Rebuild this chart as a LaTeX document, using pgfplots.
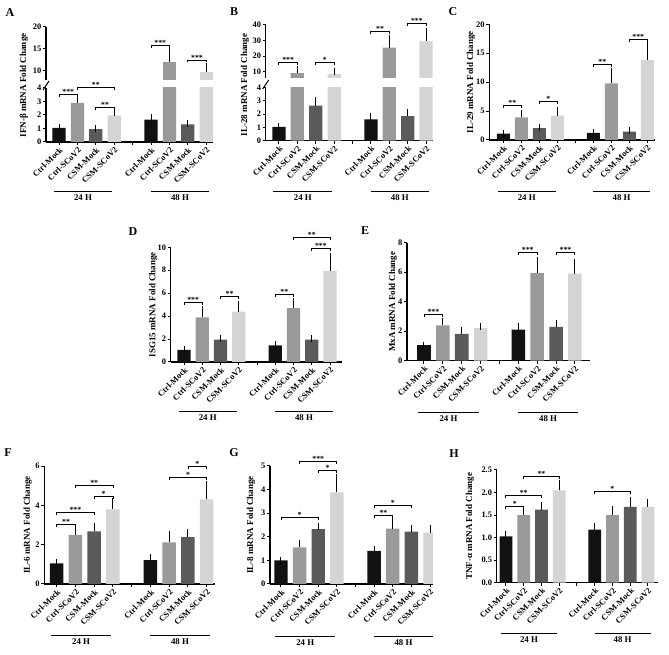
\documentclass[border=0pt]{standalone}
\usepackage{pgfplots}
\pgfplotsset{compat=1.18}
\usepackage{fontspec}
\setmainfont{Liberation Serif}
\definecolor{cA}{HTML}{111111}
\definecolor{cB}{HTML}{9A9A9A}
\definecolor{cC}{HTML}{5A5A5A}
\definecolor{cD}{HTML}{D4D4D4}
\newcommand{\tfont}{\fontsize{8.4}{9}\selectfont\bfseries}
\newcommand{\gfont}{\fontsize{8.8}{10}\selectfont\bfseries}
\newcommand{\lfont}{\fontsize{9}{10}\selectfont\bfseries}
\newcommand{\sfont}{\fontsize{7.8}{8}\selectfont\bfseries}
\newcommand{\letfont}{\fontsize{12}{14}\selectfont\bfseries}
\newcommand{\sig}[4]{\draw[line width=0.9pt] ([yshift=-2.5pt]axis cs:#1,#3) -- (axis cs:#1,#3) -- node[above=-1.5pt, font=\sfont, inner sep=1pt]{#4} (axis cs:#2,#3) -- ([yshift=-2.5pt]axis cs:#2,#3);}
\newcommand{\grp}[1]{%
 \draw[line width=1pt] ([yshift=-#1pt]axis cs:-0.3,0) -- node[below=1.5pt, font=\gfont, inner sep=1pt]{24 H} ([yshift=-#1pt]axis cs:2.9,0);
 \draw[line width=1pt] ([yshift=-#1pt]axis cs:5.0,0) -- node[below=1.5pt, font=\gfont, inner sep=1pt]{48 H} ([yshift=-#1pt]axis cs:8.15,0);}
\newcommand{\ylab}[2]{\node[rotate=90, font=\lfont, inner sep=0pt] at ([xshift=-#1pt]axis description cs:0,0.5) {#2};}
\pgfplotsset{
  panel/.style={
    scale only axis,
    axis lines*=left,
    axis line style={line width=1.1pt, -},
    every tick/.style={black, line width=1pt},
    major tick length=3pt,
    tick align=outside,
    xmin=-0.7, xmax=8.4, ymin=0,
    xtick={0,1,2,3,4,5,6,7,8},
    xticklabels={Ctrl-Mock,Ctrl-SCoV2,CSM-Mock,CSM-SCoV2,,Ctrl-Mock,Ctrl-SCoV2,CSM-Mock,CSM-SCoV2},
    x tick label style={rotate=45, anchor=north east, inner sep=1pt, font=\tfont},
    y tick label style={font=\tfont, inner sep=1.5pt},
    /pgf/number format/assume math mode=true,
    clip mode=individual,
    anchor=south west,
  },
  upper/.style={axis x line=none, xtick=\empty},
  bars/.style={ybar, bar width=0.72, bar shift=0pt, draw=none, fill=#1,
    error bars/.cd, y dir=plus, y explicit,
    error bar style={line width=1pt, black},
    error mark options={line width=1pt, black, mark size=3.5pt}},
}
\begin{document}
\begin{tikzpicture}[x=1pt,y=1pt]
\path[use as bounding box] (0,0) rectangle (669,655);
% panel letters
\node[font=\letfont] at (10pt,642pt) {A};
\node[font=\letfont] at (234pt,643pt) {B};
\node[font=\letfont] at (453pt,643pt) {C};
\node[font=\letfont] at (133pt,423pt) {D};
\node[font=\letfont] at (365pt,424pt) {E};
\node[font=\letfont] at (8pt,202pt) {F};
\node[font=\letfont] at (234pt,202pt) {G};
\node[font=\letfont] at (454pt,201pt) {H};

% ---------------- A ----------------
\begin{axis}[panel, at={(46pt,513pt)}, width=167pt, height=54pt, xmin=-0.71, xmax=8.37, ymax=4, ytick={0,1,2,3,4}]
\addplot[bars=cA] coordinates {(0,1.05) +- (0,0) (5,1.65) +- (0,0.15)};
\addplot[bars=cB] coordinates {(1,2.9) +- (0,0.25) (6,12.1) +- (0,2.4)};
\addplot[bars=cC] coordinates {(2,0.95) +- (0,0.05) (7,1.3) +- (0,0.06)};
\addplot[bars=cD] coordinates {(3,1.98) +- (0,0.2) (8,9.8) +- (0,1.2)};
\sig{0}{1}{3.53}{***}
\sig{1}{3}{4.05}{**}
\sig{2}{3}{2.57}{**}
\grp{50}
\end{axis}
\begin{axis}[panel, upper, at={(46pt,575.2pt)}, width=167pt, height=52.8pt, xmin=-0.71, xmax=8.37, ymin=8, ymax=20, ytick={10,15,20}]
\addplot[bars=cB] coordinates {(6,12.1) +- (0,2.4)};
\addplot[bars=cD] coordinates {(8,9.8) +- (0,1.2)};
\sig{5}{6}{15.75}{***}
\sig{7}{8}{12.5}{***}
\end{axis}
\draw[line width=1pt] (43pt,565pt) -- (49pt,574pt);
\node[rotate=90, font=\lfont, inner sep=0pt] at (24pt,569.5pt) {IFN-β mRNA Fold Change};

% ---------------- B ----------------
\begin{axis}[panel, at={(265.7pt,514.3pt)}, width=167.4pt, height=53pt, xmin=-0.72, xmax=8.38, ymax=4, ytick={0,1,2,3,4}]
\addplot[bars=cA] coordinates {(0,1.05) +- (0,0) (5,1.6) +- (0,0.22)};
\addplot[bars=cB] coordinates {(1,9.0) +- (0,2.1) (6,25.5) +- (0,5.6)};
\addplot[bars=cC] coordinates {(2,2.65) +- (0,0.4) (7,1.85) +- (0,0.28)};
\addplot[bars=cD] coordinates {(3,8.5) +- (0,1.9) (8,29.4) +- (0,6.4)};
\grp{51}
\end{axis}
\begin{axis}[panel, upper, at={(265.7pt,577.1pt)}, width=167.4pt, height=52.9pt, xmin=-0.72, xmax=8.38, ymin=6, ymax=40, ytick={10,20,30,40}]
\addplot[bars=cB] coordinates {(1,9.0) +- (0,2.1) (6,25.5) +- (0,5.6)};
\addplot[bars=cD] coordinates {(3,8.5) +- (0,1.9) (8,29.4) +- (0,6.4)};
\sig{0}{1}{15.8}{***}
\sig{2}{3}{15.8}{*}
\sig{5}{6}{35.6}{**}
\sig{7}{8}{40.8}{***}
\end{axis}
\draw[line width=1pt] (262.7pt,566pt) -- (268.7pt,575pt);
\node[rotate=90, font=\lfont, inner sep=0pt] at (245pt,570pt) {IL-28 mRNA Fold Change};

% ---------------- C ----------------
\begin{axis}[panel, at={(489.3pt,515pt)}, width=165.7pt, height=115.7pt, xmin=-0.78, xmax=8.43, ymax=20, ytick={0,5,10,15,20}]
\addplot[bars=cA] coordinates {(0,1.1) +- (0,0) (5,1.25) +- (0,0.1)};
\addplot[bars=cB] coordinates {(1,3.9) +- (0,0.6) (6,9.8) +- (0,2.1)};
\addplot[bars=cC] coordinates {(2,2.05) +- (0,0.15) (7,1.45) +- (0,0.12)};
\addplot[bars=cD] coordinates {(3,4.2) +- (0,0.85) (8,13.8) +- (0,2.5)};
\sig{0}{1}{5.9}{**}
\sig{2}{3}{6.6}{*}
\sig{5}{6}{13.1}{**}
\sig{7}{8}{17.4}{***}
\grp{52}
\ylab{18.3}{IL-29 mRNA Fold Change}
\end{axis}

% ---------------- D ----------------
\begin{axis}[panel, at={(170.7pt,293pt)}, width=171pt, height=114.7pt, xmin=-0.73, xmax=8.64, ymax=10, ytick={0,2,4,6,8,10}]
\addplot[bars=cA] coordinates {(0,1.05) +- (0,0) (5,1.45) +- (0,0.05)};
\addplot[bars=cB] coordinates {(1,3.9) +- (0,0.65) (6,4.7) +- (0,0.55)};
\addplot[bars=cC] coordinates {(2,1.95) +- (0,0.12) (7,1.95) +- (0,0.12)};
\addplot[bars=cD] coordinates {(3,4.4) +- (0,0.65) (8,7.95) +- (0,1.25)};
\sig{0}{1}{5.19}{***}
\sig{2}{3}{5.74}{**}
\sig{5}{6}{5.91}{**}
\sig{7}{8}{9.89}{***}
\sig{6}{8}{10.84}{**}
\grp{50}
\ylab{17.4}{ISG15 mRNA Fold Change}
\end{axis}

% ---------------- E ----------------
\begin{axis}[panel, at={(407pt,294.3pt)}, width=183pt, height=118pt, xmin=-0.9, xmax=8.8, ymax=8, ytick={0,2,4,6,8}]
\addplot[bars=cA] coordinates {(0,1.05) +- (0,0) (5,2.1) +- (0,0.2)};
\addplot[bars=cB] coordinates {(1,2.4) +- (0,0.25) (6,5.93) +- (0,0.85)};
\addplot[bars=cC] coordinates {(2,1.82) +- (0,0.22) (7,2.3) +- (0,0.23)};
\addplot[bars=cD] coordinates {(3,2.2) +- (0,0.15) (8,5.9) +- (0,0.77)};
\sig{0}{1}{3.15}{***}
\sig{5}{6}{7.35}{***}
\sig{7}{8}{7.35}{***}
\grp{52}
\ylab{14}{MxA mRNA Fold Change}
\end{axis}

% ---------------- F ----------------
\begin{axis}[panel, at={(44.3pt,71pt)}, width=170.7pt, height=118pt, xmin=-0.66, xmax=8.44, ymax=6, ytick={0,2,4,6}]
\addplot[bars=cA] coordinates {(0,1.05) +- (0,0.03) (5,1.22) +- (0,0.12)};
\addplot[bars=cB] coordinates {(1,2.5) +- (0,0.25) (6,2.12) +- (0,0.42)};
\addplot[bars=cC] coordinates {(2,2.68) +- (0,0.25) (7,2.38) +- (0,0.25)};
\addplot[bars=cD] coordinates {(3,3.8) +- (0,0.37) (8,4.3) +- (0,0.75)};
\sig{0}{1}{3.04}{**}
\sig{0}{2}{3.63}{***}
\sig{2}{3}{4.44}{*}
\sig{1}{3}{5.0}{**}
\sig{6}{8}{5.41}{*}
\sig{7}{8}{6.0}{*}
\grp{51.7}
\ylab{16.6}{IL-6 mRNA Fold Change}
\end{axis}

% ---------------- G ----------------
\begin{axis}[panel, at={(270pt,71pt)}, width=163pt, height=118pt, xmin=-0.59, xmax=8.16, ymax=5, ytick={0,1,2,3,4,5}]
\addplot[bars=cA] coordinates {(0,1.0) +- (0,0) (5,1.4) +- (0,0.07)};
\addplot[bars=cB] coordinates {(1,1.55) +- (0,0.15) (6,2.35) +- (0,0.28)};
\addplot[bars=cC] coordinates {(2,2.32) +- (0,0.12) (7,2.22) +- (0,0.15)};
\addplot[bars=cD] coordinates {(3,3.88) +- (0,0.65) (8,2.18) +- (0,0.17)};
\sig{0}{2}{2.81}{*}
\sig{2}{3}{4.83}{*}
\sig{1}{3}{5.18}{***}
\sig{5}{6}{2.9}{**}
\sig{5}{7}{3.32}{*}
\grp{52.7}
\ylab{19}{IL-8 mRNA Fold Change}
\end{axis}

% ---------------- H ----------------
\begin{axis}[panel, at={(496.7pt,72.3pt)}, width=161pt, height=112.7pt, xmin=-0.52, xmax=8.55, ymax=2.5, ytick={0,0.5,1,1.5,2,2.5},
  yticklabel style={/pgf/number format/.cd, fixed, fixed zerofill, precision=1}]
\addplot[bars=cA] coordinates {(0,1.03) +- (0,0.03) (5,1.18) +- (0,0.07)};
\addplot[bars=cB] coordinates {(1,1.5) +- (0,0.08) (6,1.5) +- (0,0.12)};
\addplot[bars=cC] coordinates {(2,1.62) +- (0,0.1) (7,1.68) +- (0,0.15)};
\addplot[bars=cD] coordinates {(3,2.05) +- (0,0.15) (8,1.68) +- (0,0.1)};
\sig{0}{1}{1.69}{*}
\sig{0}{2}{1.93}{**}
\sig{1}{3}{2.36}{**}
\sig{5}{7}{2.02}{*}
\grp{50.6}
\ylab{26.7}{TNF-α mRNA Fold Change}
\end{axis}
\end{tikzpicture}
\end{document}
